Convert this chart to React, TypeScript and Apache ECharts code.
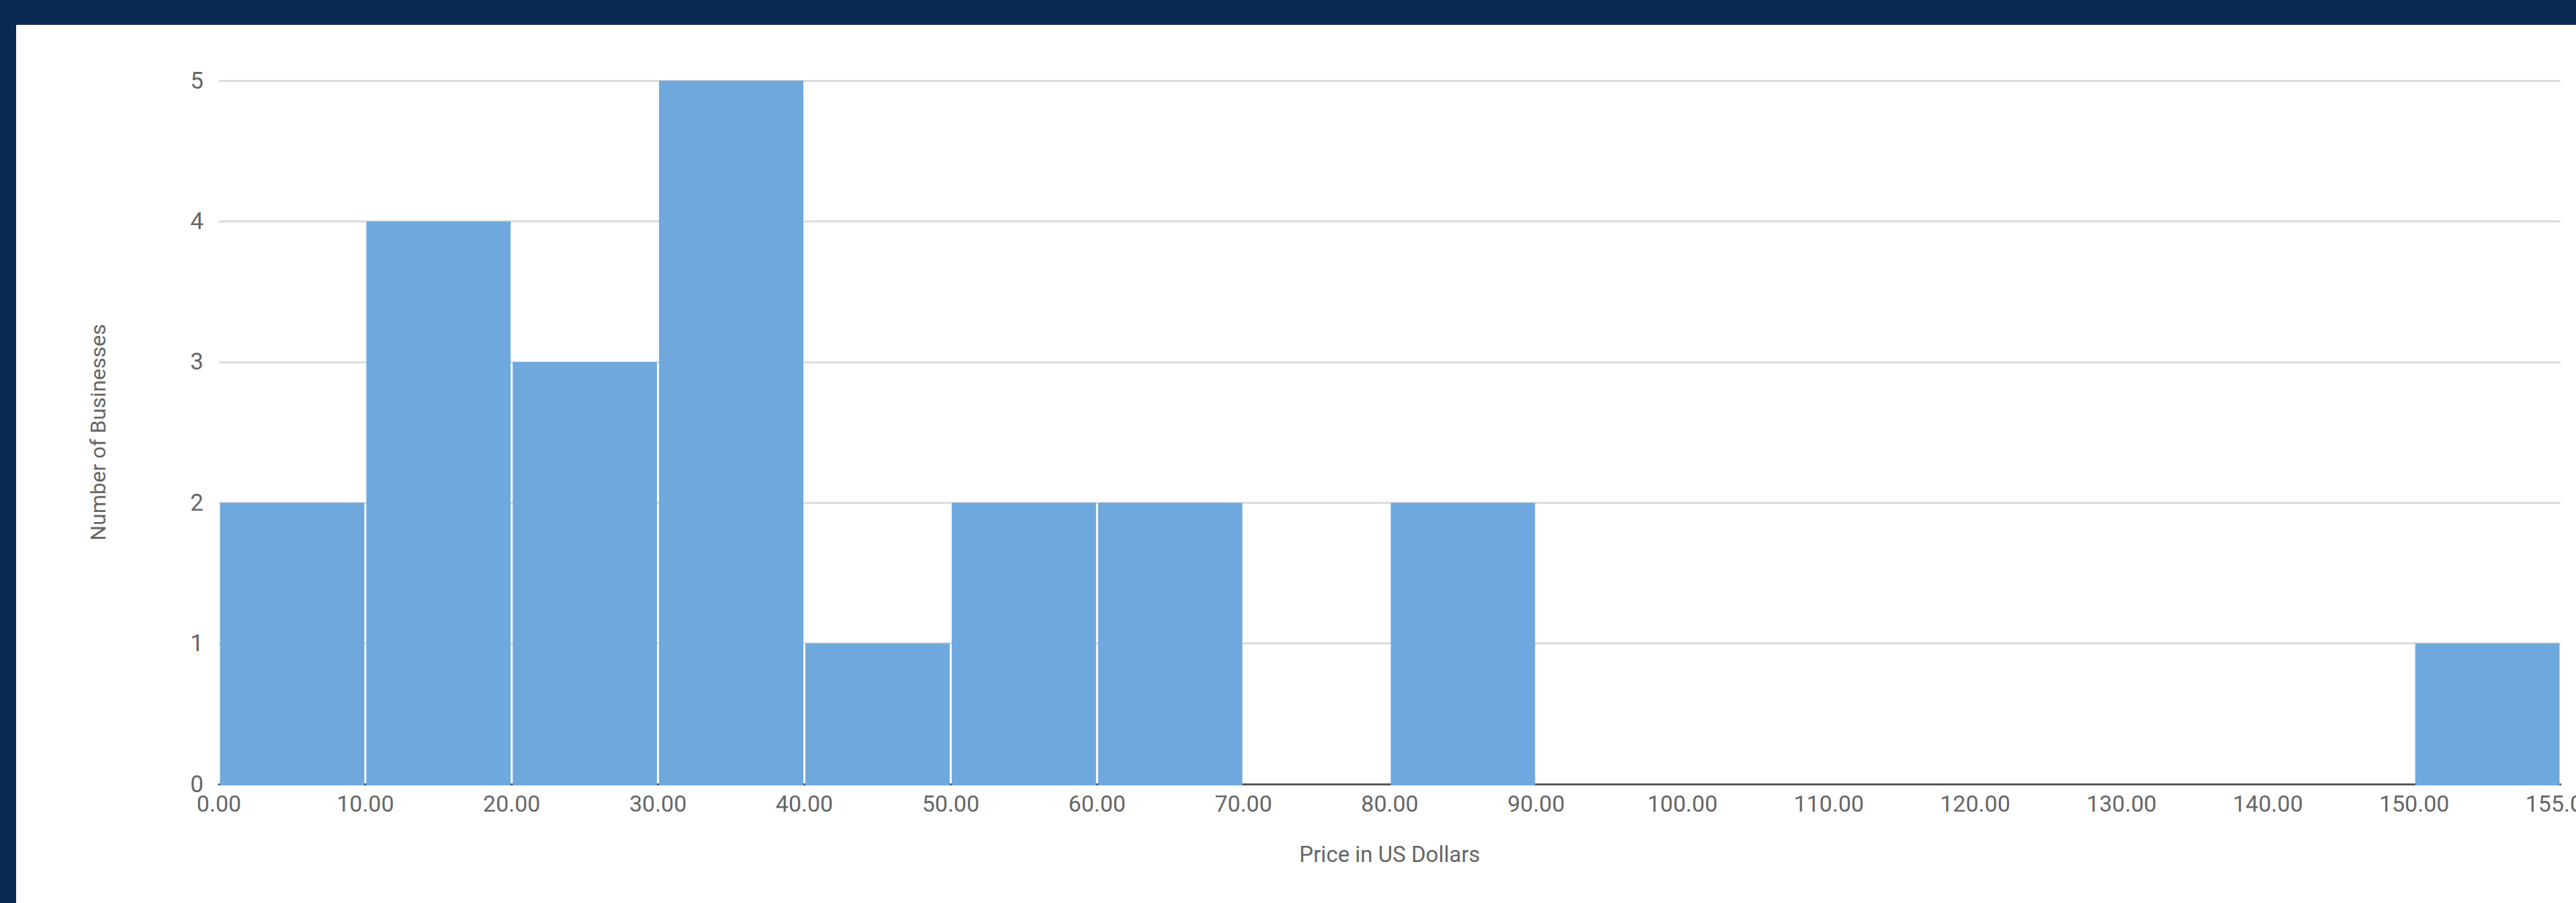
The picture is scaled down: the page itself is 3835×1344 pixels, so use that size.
import React, { useEffect, useRef } from "react";
import * as echarts from "echarts";

// Histogram bins: bucket i spans tickLabels[i] .. tickLabels[i+1]
const tickLabels = [
  "0.00", "10.00", "20.00", "30.00", "40.00", "50.00", "60.00", "70.00",
  "80.00", "90.00", "100.00", "110.00", "120.00", "130.00", "140.00", "150.00", "155.00",
];
const binCounts = [2, 4, 3, 5, 1, 2, 2, 0, 2, 0, 0, 0, 0, 0, 0, 1];
const xTitle = "Price in US Dollars";
const yTitle = "Number of Businesses";

const PAGE_W = 3835;
const PAGE_H = 1344;
const PANEL_LEFT = 24;
const PANEL_TOP = 37;

export default function App() {
  const ref = useRef<HTMLDivElement>(null);

  useEffect(() => {
    if (!ref.current) return;
    const chart = echarts.init(ref.current, undefined, { renderer: "svg" });
    const data = binCounts.map((c, i) => [i, i + 1, c]);
    const font = "Roboto, Arial, sans-serif";
    chart.setOption({
      animation: false,
      backgroundColor: "#ffffff",
      grid: {
        left: 302,
        right: 23,
        top: 83,
        bottom: 177,
        containLabel: false,
        outerBoundsMode: "none",
      },
      xAxis: {
        type: "value",
        min: 0,
        max: tickLabels.length - 1,
        interval: 1,
        name: xTitle,
        nameLocation: "middle",
        nameGap: 88,
        nameTextStyle: { fontSize: 33, color: "#666666", fontFamily: font },
        splitLine: { show: false },
        axisTick: { show: false },
        axisLine: { show: true, lineStyle: { color: "#555555", width: 3 } },
        axisLabel: {
          color: "#666666",
          fontSize: 34,
          fontFamily: font,
          margin: 12,
          showMinLabel: true,
          showMaxLabel: true,
          formatter: (v: number) => tickLabels[Math.round(v)] ?? "",
        },
      },
      yAxis: {
        type: "value",
        min: 0,
        max: 5,
        interval: 1,
        name: yTitle,
        nameLocation: "middle",
        nameGap: 164,
        nameTextStyle: { fontSize: 32, color: "#666666", fontFamily: font },
        axisLine: { show: false },
        axisTick: { show: false },
        splitLine: { show: true, lineStyle: { color: "#dcdcdc", width: 3 } },
        axisLabel: { color: "#666666", fontSize: 35, fontFamily: font, margin: 23 },
      },
      series: [
        {
          type: "custom",
          encode: { x: [0, 1], y: 2 },
          data,
          renderItem: (params: any, api: any) => {
            const x0 = api.value(0);
            const x1 = api.value(1);
            const c = api.value(2);
            if (!c) return { type: "group", children: [] };
            const p0 = api.coord([x0, 0]);
            const p1 = api.coord([x1, c]);
            return {
              type: "rect",
              shape: {
                x: p0[0] + 1.5,
                y: p1[1],
                width: p1[0] - p0[0] - 3,
                height: p0[1] - p1[1] + 2,
              },
              style: { fill: "#6fa8dc" },
            };
          },
        },
      ],
    });
    return () => chart.dispose();
  }, []);

  return (
    <div
      style={{
        position: "fixed",
        left: 0,
        top: 0,
        width: PAGE_W,
        height: PAGE_H,
        background: "#0a2a54",
        overflow: "hidden",
      }}
    >
      <div
        ref={ref}
        style={{
          position: "absolute",
          left: PANEL_LEFT,
          top: PANEL_TOP,
          width: PAGE_W - PANEL_LEFT,
          height: PAGE_H - PANEL_TOP,
          background: "#ffffff",
        }}
      />
    </div>
  );
}
